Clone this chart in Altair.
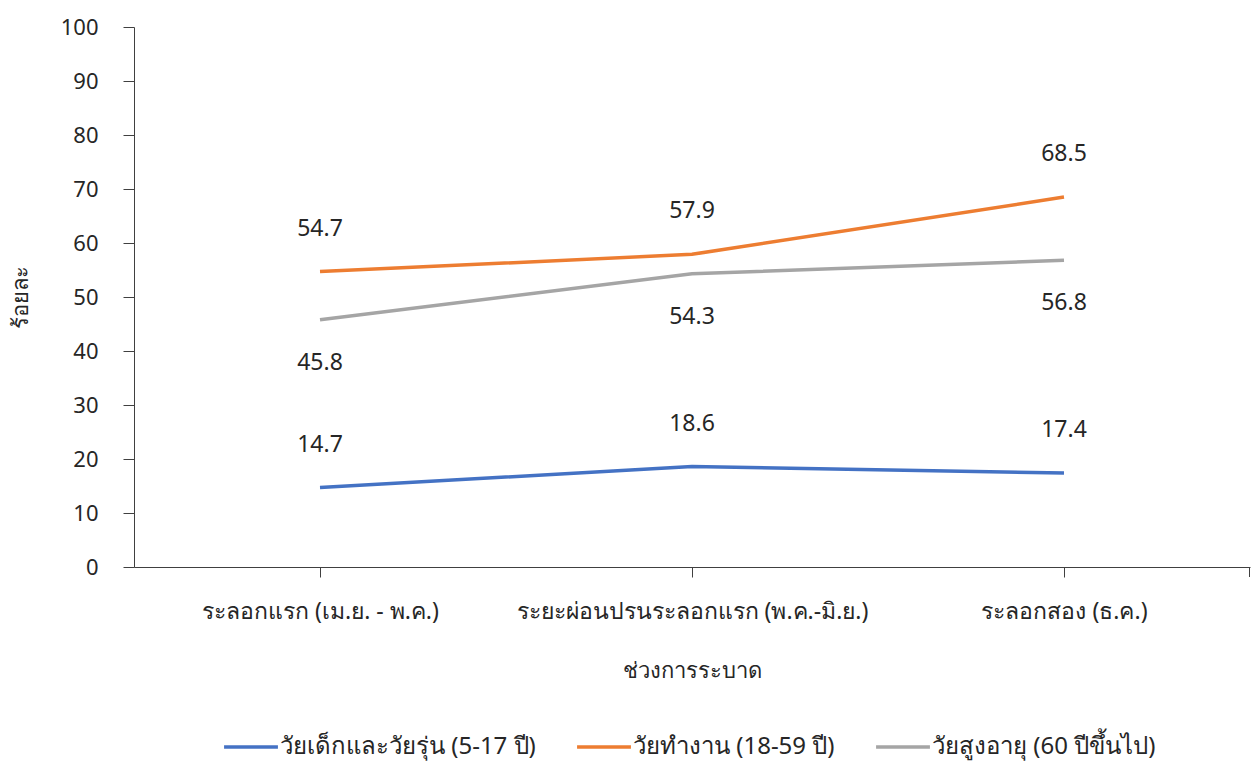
import altair as alt
import pandas as pd

# Epidemic phases (x categories)
phases = [
    "ระลอกแรก (เม.ย. - พ.ค.)",
    "ระยะผ่อนปรนระลอกแรก (พ.ค.-มิ.ย.)",
    "ระลอกสอง (ธ.ค.)",
]

# Age groups (series)
groups = [
    "วัยเด็กและวัยรุ่น (5-17 ปี)",
    "วัยทำงาน (18-59 ปี)",
    "วัยสูงอายุ (60 ปีขึ้นไป)",
]
colors = ["#4472C4", "#ED7D31", "#A5A5A5"]

# Percentages per group, one value per phase
children = [14.7, 18.6, 17.4]
working = [54.7, 57.9, 68.5]
elderly = [45.8, 54.3, 56.8]

rows = []
for name, vals in zip(groups, [children, working, elderly]):
    for phase, v in zip(phases, vals):
        rows.append({"phase": phase, "group": name, "value": v})
df = pd.DataFrame(rows)

FONT = "Noto Sans"
TXT = "#262626"
AX = "#404040"

W, H = 1116, 540

x_enc = alt.X(
    "phase:N",
    sort=phases,
    scale=alt.Scale(type="point", padding=0.5),
    axis=alt.Axis(
        title="ช่วงการระบาด",
        labelAngle=0,
        labelFontSize=23,
        labelPadding=23,
        labelLimit=600,
        tickSize=10,
        titleFontSize=22,
        titleFontWeight="normal",
        titleX=W / 2,
        titleY=103,
        titleBaseline="middle",
    ),
)
y_enc = alt.Y(
    "value:Q",
    scale=alt.Scale(domain=[0, 100], nice=False),
    axis=alt.Axis(
        title="ร้อยละ",
        values=list(range(0, 101, 10)),
        labelFontSize=22,
        labelPadding=25,
        tickSize=11,
        grid=False,
        titleFontSize=22,
        titleFontWeight="normal",
        titleAngle=-90,
        titleX=-114,
        titleY=H / 2,
        titleBaseline="middle",
        titleAlign="center",
    ),
)
color_enc = alt.Color(
    "group:N",
    sort=groups,
    scale=alt.Scale(domain=groups, range=colors),
    legend=alt.Legend(
        title=None,
        orient="none",
        direction="horizontal",
        legendX=88,
        legendY=691,
        symbolType="stroke",
        symbolSize=2900,
        symbolStrokeWidth=3.5,
        labelFontSize=24,
        labelOffset=0,
        columnPadding=34,
        labelLimit=400,
    ),
)

base = alt.Chart(df)

lines = base.mark_line(strokeWidth=3.5).encode(x=x_enc, y=y_enc, color=color_enc)

labels_above = (
    base.transform_filter(alt.FieldOneOfPredicate(field="group", oneOf=groups[:2]))
    .mark_text(dy=-43, fontSize=23, color=TXT, font=FONT)
    .encode(x=x_enc, y=y_enc, text=alt.Text("value:Q", format=".1f"))
)
labels_below = (
    base.transform_filter(alt.FieldEqualPredicate(field="group", equal=groups[2]))
    .mark_text(dy=43, fontSize=23, color=TXT, font=FONT)
    .encode(x=x_enc, y=y_enc, text=alt.Text("value:Q", format=".1f"))
)

# closing tick at the right end of the category axis
end_tick = alt.Chart(pd.DataFrame({"k": [0]})).mark_rule(color=AX, strokeWidth=1).encode(
    x=alt.value(W - 0.5), y=alt.value(H), y2=alt.value(H + 10)
)

chart = (
    alt.layer(lines, labels_above, labels_below, end_tick)
    .properties(
        width=W,
        height=H,
        autosize=alt.AutoSizeParams(type="none"),
        padding={"left": 134, "top": 27, "right": 2, "bottom": 198},
    )
    .configure(font=FONT)
    .configure_view(stroke=None)
    .configure_axis(
        domainColor=AX,
        tickColor=AX,
        labelColor=TXT,
        titleColor=TXT,
        labelFont=FONT,
        titleFont=FONT,
    )
    .configure_legend(labelColor=TXT, labelFont=FONT)
)

chart.save("out.html", embed_options={"renderer": "svg", "actions": False})
